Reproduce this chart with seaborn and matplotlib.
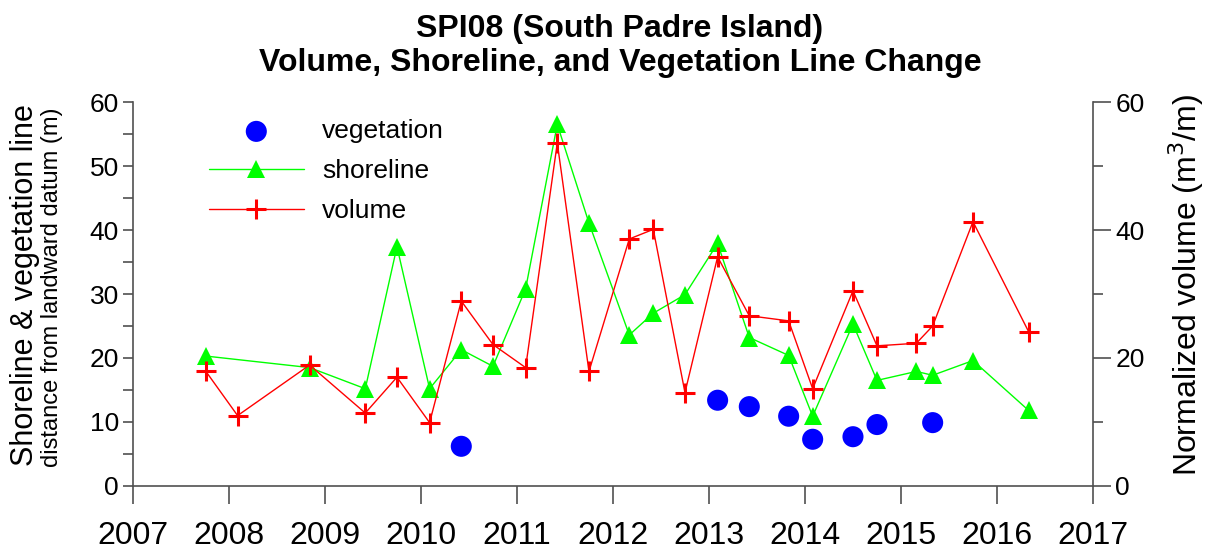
import numpy as np
import pandas as pd
import matplotlib
matplotlib.use('Agg')
import matplotlib.pyplot as plt
from matplotlib.ticker import MultipleLocator
import seaborn as sns

# survey dates (decimal years) and values
shore_date = [2007.76, 2008.84, 2009.42, 2009.75, 2010.09, 2010.42, 2010.75, 2011.09,
              2011.42, 2011.75, 2012.17, 2012.42, 2012.75, 2013.09, 2013.42, 2013.83,
              2014.08, 2014.50, 2014.75, 2015.16, 2015.33, 2015.75, 2016.33]
shoreline = [20.3, 18.5, 15.2, 37.4, 15.2, 21.3, 18.7, 30.8, 56.5, 41.1, 23.6, 27.0,
             29.9, 37.9, 23.2, 20.4, 10.9, 25.3, 16.5, 17.9, 17.3, 19.6, 11.8]

vol_date = [2007.76, 2008.09, 2008.84, 2009.42, 2009.75, 2010.09, 2010.42, 2010.75,
            2011.09, 2011.42, 2011.75, 2012.17, 2012.42, 2012.75, 2013.09, 2013.42,
            2013.83, 2014.08, 2014.50, 2014.75, 2015.16, 2015.33, 2015.75, 2016.33]
volume = [17.9, 11.0, 18.9, 11.4, 17.0, 9.9, 28.9, 22.1, 18.5, 53.6, 17.9, 38.6,
          40.1, 14.6, 35.8, 26.6, 25.8, 15.2, 30.5, 21.9, 22.3, 25.0, 41.3, 24.1]

veg_date = [2010.42, 2013.09, 2013.42, 2013.83, 2014.08, 2014.50, 2014.75, 2015.33]
vegetation = [6.2, 13.4, 12.4, 10.9, 7.3, 7.7, 9.6, 9.9]

years = list(range(2007, 2018))

sns.set_style('ticks')
plt.rcParams['font.family'] = ['Liberation Sans', 'DejaVu Sans']
plt.rcParams['text.color'] = 'black'

fig = plt.figure(figsize=(12.12, 5.5), dpi=100)
ax = fig.add_axes([0.1097, 0.1164, 0.7921, 0.6981])
ax2 = ax.twinx()

sns.scatterplot(x=veg_date, y=vegetation, ax=ax, color='#0000ff', marker='o',
                s=230, edgecolor='none', label='vegetation', legend=False)
sns.lineplot(x=shore_date, y=shoreline, ax=ax, color='#00ff00', marker='^',
             markersize=13, markeredgewidth=0, linewidth=1, label='shoreline', legend=False)
sns.lineplot(x=vol_date, y=volume, ax=ax2, color='#ff0000', marker='+',
             markersize=15, markeredgewidth=2.2, markeredgecolor='#ff0000',
             linewidth=1, label='volume', legend=False)

ax.set_xlim(2007, 2017)
ax.set_ylim(0, 60)
ax2.set_ylim(0, 60)
ax.set_xticks(years)
ax.set_xticklabels([str(y) for y in years])
ax.yaxis.set_major_locator(MultipleLocator(10))
ax.yaxis.set_minor_locator(MultipleLocator(5))
ax2.yaxis.set_major_locator(MultipleLocator(20))
ax2.yaxis.set_minor_locator(MultipleLocator(10))

sc = '#505050'
for a in (ax, ax2):
    a.spines['top'].set_visible(False)
    for s in a.spines.values():
        s.set_color(sc)
        s.set_linewidth(1.2)
    a.set_xlabel('')
    a.set_ylabel('')
ax.spines['right'].set_visible(False)
ax2.spines['left'].set_visible(False)
ax2.spines['bottom'].set_visible(False)

ax.tick_params(axis='x', which='major', direction='out', length=13, width=1.2,
               color=sc, labelcolor='black', labelsize=23, pad=12)
ax.tick_params(axis='y', which='both', direction='out', length=7, width=1.2,
               color=sc, labelcolor='black', labelsize=19, pad=3)
ax2.tick_params(axis='y', which='major', direction='out', length=13, width=1.2,
                color=sc, labelcolor='black', labelsize=19, pad=3)
ax2.tick_params(axis='y', which='minor', direction='out', length=7, width=1.2, color=sc)

fig.text(0.5115, 0.975, 'SPI08 (South Padre Island)\nVolume, Shoreline, and Vegetation Line Change',
         ha='center', va='top', fontsize=23, fontweight='bold', linespacing=1.2)
fig.text(0.021, 0.482, 'Shoreline & vegetation line', rotation=90, ha='center',
         va='center', fontsize=22)
fig.text(0.043, 0.478, 'distance from landward datum (m)', rotation=90, ha='center',
         va='center', fontsize=17)
fig.text(0.979, 0.482, 'Normalized volume (m$^3$/m)', rotation=90, ha='center',
         va='center', fontsize=23)

handles = ax.get_legend_handles_labels()[0] + ax2.get_legend_handles_labels()[0]
labels = ['vegetation', 'shoreline', 'volume']
ax.legend(handles, labels, loc='upper left', bbox_to_anchor=(0.079, 0.955), frameon=False,
          fontsize=19, handlelength=3.6, handletextpad=0.7, labelspacing=0.6,
          borderpad=0, borderaxespad=0)

fig.savefig('out.png', dpi=100)
